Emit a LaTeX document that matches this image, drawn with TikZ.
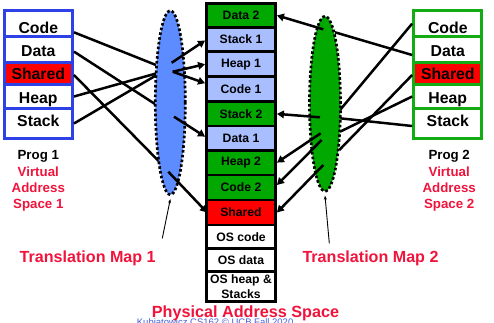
\documentclass[tikz,border=0pt]{standalone}
\usepackage{fontspec}
\setmainfont{Liberation Sans}
\usetikzlibrary{arrows.meta,shapes.geometric}

\definecolor{physgreen}{RGB}{0,168,0}
\definecolor{physblue}{RGB}{168,190,255}
\definecolor{mapblue}{RGB}{92,140,255}
\definecolor{mapgreen}{RGB}{0,168,0}
\definecolor{lblred}{RGB}{240,20,60}
\definecolor{vblue}{RGB}{45,65,230}
\definecolor{vgreen}{RGB}{20,172,20}
\definecolor{footblue}{RGB}{70,95,220}
\definecolor{sharedred}{RGB}{255,0,0}

\begin{document}
\begin{tikzpicture}[x=1pt,y=-1pt,
  vrow/.style={draw=#1, line width=3pt, minimum width=68.3pt, inner sep=0pt, fill=white},
  vtxt/.style={inner sep=0pt, text height=11.3pt, text depth=0pt,
    font=\fontsize{15.8}{18}\selectfont\bfseries},
  prow/.style={draw=black, line width=2.8pt, minimum width=69pt, inner sep=0pt,
    fill=#1, font=\fontsize{12.2}{15.7}\selectfont\bfseries, align=center},
  captxt/.style={inner sep=0pt, text height=9.5pt, text depth=0pt,
    font=\fontsize{13.3}{16}\selectfont\bfseries},
  maptxt/.style={inner sep=0pt, text height=11.6pt, text depth=0pt, text=lblred,
    font=\fontsize{16.1}{18}\selectfont\bfseries},
  mapshape/.style={ellipse, draw=black, fill=#1, line width=2.7pt,
    dash pattern=on 2.6pt off 2.2pt, inner sep=0pt},
  link/.style={line width=2.5pt, black},
  maparrow/.style={line width=2.5pt, black, -{Triangle[length=7pt,width=7.5pt]}},
  pointer/.style={line width=0.9pt, black, -{Stealth[length=4pt,width=3pt]}}
]
\useasboundingbox (0,0) rectangle (494,322);

% ---------- footer (sits behind the caption) ----------
\node[anchor=base west, inner sep=0pt, text=footblue,
  font=\fontsize{9.5}{11}\selectfont] (footer) at (136.7,325) {Kubiatowicz CS162 © UCB Fall 2020};

% ---------- virtual address space of program 1 ----------
\node[vrow=vblue, minimum height=26.2pt] (aCode)   at (38.3,23.6) {};
\node[vrow=vblue, minimum height=25.8pt] (aData)   at (38.3,49.6) {};
\node[vrow=vblue, minimum height=22pt, fill=sharedred] (aShared) at (38.3,73.5) {};
\node[vrow=vblue, minimum height=24pt]   (aHeap)   at (38.3,96.5) {};
\node[vrow=vblue, minimum height=30pt]   (aStack)  at (38.3,123.5) {};
\node[vtxt] (aCodeT)   at (38.3,27.5)  {Code};
\node[vtxt] (aDataT)   at (38.3,51.2)  {Data};
\node[vtxt] (aSharedT) at (38.3,74.2)  {Shared};
\node[vtxt] (aHeapT)   at (38.3,98.3)  {Heap};
\node[vtxt] (aStackT)  at (38.3,121.2) {Stack};

% ---------- virtual address space of program 2 ----------
\node[vrow=vgreen, minimum height=26.2pt] (bCode)   at (447.8,23.6) {};
\node[vrow=vgreen, minimum height=25.8pt] (bData)   at (447.8,49.6) {};
\node[vrow=vgreen, minimum height=22pt, fill=sharedred] (bShared) at (447.8,73.5) {};
\node[vrow=vgreen, minimum height=24pt]   (bHeap)   at (447.8,96.5) {};
\node[vrow=vgreen, minimum height=30pt]   (bStack)  at (447.8,123.5) {};
\node[vtxt] (bCodeT)   at (447.8,27.5)  {Code};
\node[vtxt] (bDataT)   at (447.8,51.2)  {Data};
\node[vtxt] (bSharedT) at (447.8,74.2)  {Shared};
\node[vtxt] (bHeapT)   at (447.8,98.3)  {Heap};
\node[vtxt] (bStackT)  at (447.8,121.2) {Stack};

% ---------- captions under the address spaces ----------
\node[captxt] (aProg) at (38.3,155)   {Prog 1};
\node[captxt, text=lblred] (aV1) at (38.3,171.7) {Virtual};
\node[captxt, text=lblred] (aV2) at (38.3,187.6) {Address};
\node[captxt, text=lblred] (aV3) at (38.3,204)   {Space 1};
\node[captxt] (bProg) at (449.2,155)   {Prog 2};
\node[captxt, text=lblred] (bV1) at (449.2,171.7) {Virtual};
\node[captxt, text=lblred] (bV2) at (449.2,187.6) {Address};
\node[captxt, text=lblred] (bV3) at (449.2,204)   {Space 2};

% ---------- physical address space ----------
\node[prow=physgreen, minimum height=23.8pt] (pData2)  at (241,15.4)  {Data 2};
\node[prow=physblue,  minimum height=24.4pt] (pStack1) at (241,39.5)  {Stack 1};
\node[prow=physblue,  minimum height=25pt]   (pHeap1)  at (241,64.2)  {Heap 1};
\node[prow=physblue,  minimum height=25pt]   (pCode1)  at (241,89.2)  {Code 1};
\node[prow=physgreen, minimum height=24.3pt] (pStack2) at (241,113.85) {Stack 2};
\node[prow=physblue,  minimum height=24.3pt] (pData1)  at (241,138.15) {Data 1};
\node[prow=physgreen, minimum height=24.7pt] (pHeap2)  at (241,162.65) {Heap 2};
\node[prow=physgreen, minimum height=25pt]   (pCode2)  at (241,187.5) {Code 2};
\node[prow=sharedred, minimum height=25pt]   (pShared) at (241,212.5) {Shared};
\node[prow=white,     minimum height=23.3pt] (pOScode) at (241,236.65) {OS code};
\node[prow=white,     minimum height=23.4pt] (pOSdata) at (241,260)   {OS data};
\node[prow=white,     minimum height=29.8pt] (pOSheap) at (241,286.6) {OS heap \&\\Stacks};

\node[anchor=base, inner sep=0pt, text=lblred,
  font=\fontsize{16.2}{18}\selectfont\bfseries] (physcap) at (245.5,317.5) {Physical Address Space};

% ---------- where the incoming links end, inside the maps ----------
\coordinate (m1Code)   at (156,65);
\coordinate (m1Data)   at (155,104);
\coordinate (m1Shared) at (159.3,161.7);
\coordinate (m1Heap)   at (156.7,73.3);
\coordinate (m1Stack)  at (156.7,75);
\coordinate (m2Code)   at (340,110);
\coordinate (m2Data)   at (335,32.3);
\coordinate (m2Shared) at (339.3,150);
\coordinate (m2Heap)   at (340,131.7);
\coordinate (m2Stack)  at (340,118.3);

% links from the virtual segments into the maps (drawn below the maps)
\draw[link] ([yshift=-8.7pt]aCode.east)  -- (m1Code);
\draw[link] ([yshift=-2pt]aData.east)    -- (m1Data);
\draw[link] ([yshift=-1.5pt]aShared.east) -- (m1Shared);
\draw[link] (aHeap.east)                 -- (m1Heap);
\draw[link] (aStack.east)                -- (m1Stack);
\draw[link] (bCode.west)                 -- (m2Code);
\draw[link] ([yshift=-5.4pt]bData.west)  -- (m2Data);
\draw[link] ([yshift=-1.5pt]bShared.west) -- (m2Shared);
\draw[link] (bHeap.west)                 -- (m2Heap);
\draw[link] ([yshift=-2.5pt]bStack.west) -- (m2Stack);

% ---------- translation maps ----------
\node[mapshape=mapblue,  minimum width=30pt, minimum height=184pt] (map1) at (170.3,102.7) {};
\node[mapshape=mapgreen, minimum width=31pt, minimum height=175pt] (map2) at (325,103.8) {};

% where the outgoing arrows leave the maps
\coordinate (o1Stack)  at (171.7,62.7);
\coordinate (o1Heap)   at (172.7,71.7);
\coordinate (o1Data)   at (174,116.7);
\coordinate (o1Shared) at (168.3,171.7);
\coordinate (o2Data)   at (323.3,29.3);
\coordinate (o2Stack)  at (320,117.3);
\coordinate (o2Heap)   at (320.7,133.3);
\coordinate (o2Code)   at (321.7,140);
\coordinate (o2Shared) at (323.3,165);

\draw[maparrow] (o1Stack)  -- ([yshift=-1pt]pStack1.west);
\draw[maparrow] (o1Heap)   -- (pHeap1.west);
\draw[maparrow] (o1Heap)   -- ([yshift=6pt]pCode1.west);
\draw[maparrow] (o1Data)   -- ([yshift=1.5pt]pData1.west);
\draw[maparrow] (o1Shared) -- ([xshift=2pt]pShared.west);
\draw[maparrow] (o2Data)   -- (pData2.east);
\draw[maparrow] (o2Stack)  -- (pStack2.east);
\draw[maparrow] (o2Heap)   -- (pHeap2.east);
\draw[maparrow] (o2Code)   -- ([yshift=2.5pt]pCode2.east);
\draw[maparrow] (o2Shared) -- (pShared.east);

% ---------- map captions with pointers ----------
\node[maptxt] (map1cap) at (87.7,256.7)  {Translation Map 1};
\node[maptxt] (map2cap) at (370.5,256.7) {Translation Map 2};
\coordinate (p1foot) at (162.3,238.3);
\coordinate (p2foot) at (329.3,243.3);
\draw[pointer] (p1foot) -- ([yshift=-3pt]map1.south);
\draw[pointer] (p2foot) -- ([yshift=-3pt]map2.south);
\end{tikzpicture}
\end{document}
